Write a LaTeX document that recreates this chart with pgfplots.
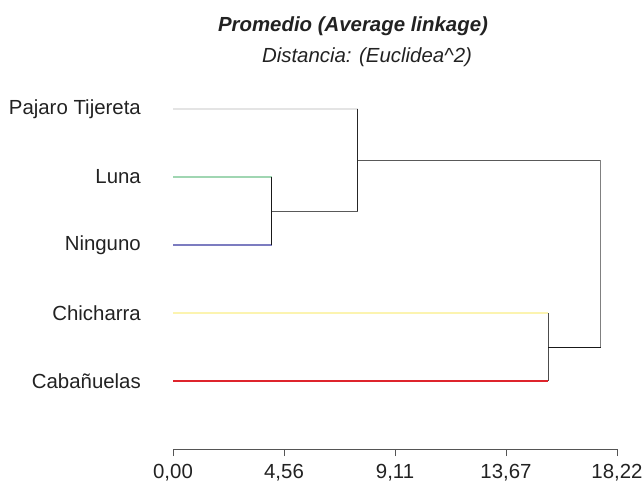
\documentclass[border=0pt]{standalone}
\usepackage{fontspec}
\setmainfont{Liberation Sans}
\usepackage{pgfplots}
\pgfplotsset{compat=1.18}
\definecolor{txt}{HTML}{222222}
\definecolor{cpaj}{RGB}{228,228,228}
\definecolor{clun}{RGB}{160,214,178}
\definecolor{cnin}{RGB}{124,124,192}
\definecolor{cchi}{RGB}{252,244,176}
\definecolor{ccab}{RGB}{222,36,44}
\definecolor{cax}{RGB}{85,85,85}
\begin{document}
\begin{tikzpicture}[x=1pt,y=1pt]
\path[use as bounding box] (0,0) rectangle (642,482);
\begin{axis}[
  at={(173pt,33pt)}, anchor=origin,
  scale only axis, width=444pt, height=340pt,
  xmin=0, xmax=18.22, ymin=0, ymax=5,
  clip=false,
  axis x line=bottom, axis y line=left,
  x axis line style={-, draw=cax, line width=0.8pt},
  y axis line style={draw=none},
  xtick={0,4.555,9.11,13.665,18.22},
  xticklabels={{0,00},{4,56},{9,11},{13,67},{18,22}},
  xtick style={draw=cax, line width=0.8pt},
  tick align=outside, major tick length=7pt,
  xticklabel style={font=\fontsize{20.4}{24}\selectfont, text=txt, inner sep=0pt, anchor=north, yshift=-8pt},
  ytick={1,2,3,4,5},
  yticklabels={Cabañuelas,Chicharra,Ninguno,Luna,Pajaro Tijereta},
  ytick style={draw=none},
  yticklabel style={font=\fontsize{20.4}{24}\selectfont, text=txt, inner sep=0pt, anchor=east, xshift=-25pt},
]
% leaves
\addplot[draw=cpaj, line width=1.1pt] coordinates {(0,5) (7.58,5)};
\addplot[draw=clun, line width=1.1pt] coordinates {(0,4) (4.05,4)};
\addplot[draw=cnin, line width=1.1pt] coordinates {(0,3) (4.05,3)};
\addplot[draw=cchi, line width=1.1pt] coordinates {(0,2) (15.40,2)};
\addplot[draw=ccab, line width=1.1pt] coordinates {(0,1) (15.40,1)};
% merges
\addplot[draw=black!90, line width=1pt] coordinates {(4.05,4) (4.05,3)};
\addplot[draw=black!65, line width=1pt] coordinates {(4.05,3.5) (7.58,3.5)};
\addplot[draw=black!85, line width=1pt] coordinates {(7.58,5) (7.58,3.5)};
\addplot[draw=black!65, line width=1pt] coordinates {(7.58,4.25) (17.55,4.25)};
\addplot[draw=black!70, line width=1pt] coordinates {(15.40,2) (15.40,1)};
\addplot[draw=black!90, line width=1pt] coordinates {(15.40,1.5) (17.55,1.5)};
\addplot[draw=black!50, line width=1pt] coordinates {(17.55,4.25) (17.55,1.5)};
\end{axis}
\node[text=txt, font=\fontsize{20.4}{24}\selectfont\bfseries\itshape] at (353,456) {Promedio (Average linkage)};
\node[text=txt, font=\fontsize{20.4}{24}\selectfont\itshape] at (367,425) {Distancia: (Euclidea\textasciicircum 2)};
\end{tikzpicture}
\end{document}
